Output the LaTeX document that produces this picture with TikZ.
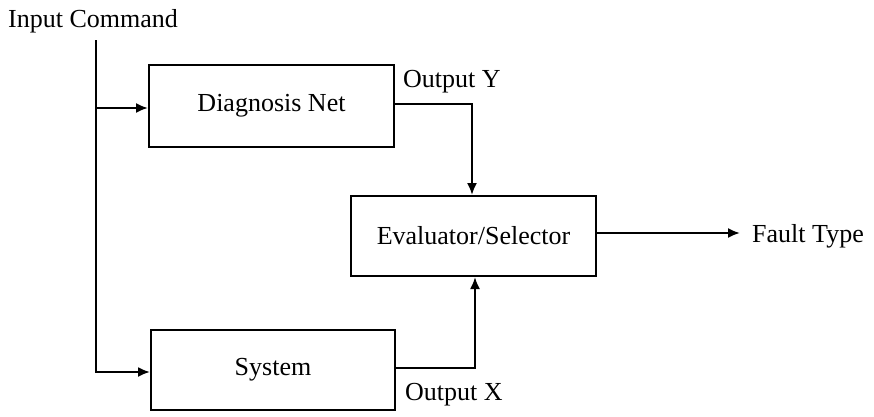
\documentclass[tikz,border=0pt]{standalone}
\usepackage{fontspec}
\setmainfont{Liberation Serif}
\usetikzlibrary{arrows.meta}
\begin{document}
\begin{tikzpicture}[x=1pt,y=-1pt,
  every node/.style={font=\fontsize{26}{30}\selectfont},
  blockbox/.style={draw,line width=2pt,inner sep=0pt},
  label/.style={inner sep=0pt,anchor=base west},
  wire/.style={line width=2pt},
  flow/.style={wire,-{Latex[length=12pt,width=10pt]}}]
\useasboundingbox (0,0) rectangle (874,416);

% blocks
\node[blockbox,minimum width=245pt,minimum height=82pt] (dn) at (271.5,106) {Diagnosis Net};
\node[blockbox,minimum width=245pt,minimum height=80pt] (ev) at (473.5,236) {Evaluator/Selector};
\node[blockbox,minimum width=244pt,minimum height=80pt] (sys) at (273,370) {System};

% labels
\node[label] (incmd) at (8,27) {Input Command};
\node[label] (outy) at (403,87) {Output Y};
\node[label] (outx) at (405,400) {Output X};
\node[label] (ft) at (752,242) {Fault Type};

\coordinate (in) at (96,40);
\coordinate (ftend) at (740,233);

% input command feeds both blocks
\draw[flow] (in) |- ([yshift=-2pt]dn.west);
\draw[flow] (in) |- ([yshift=-2pt]sys.west);

% outputs into the evaluator
\draw[flow] ([yshift=2pt]dn.east) -| ([xshift=-1.5pt]ev.north);
\draw[flow] ([yshift=2pt]sys.east) -| ([xshift=1.5pt]ev.south);

% result
\draw[flow] ([yshift=3pt]ev.east) -- (ftend);
\end{tikzpicture}
\end{document}
